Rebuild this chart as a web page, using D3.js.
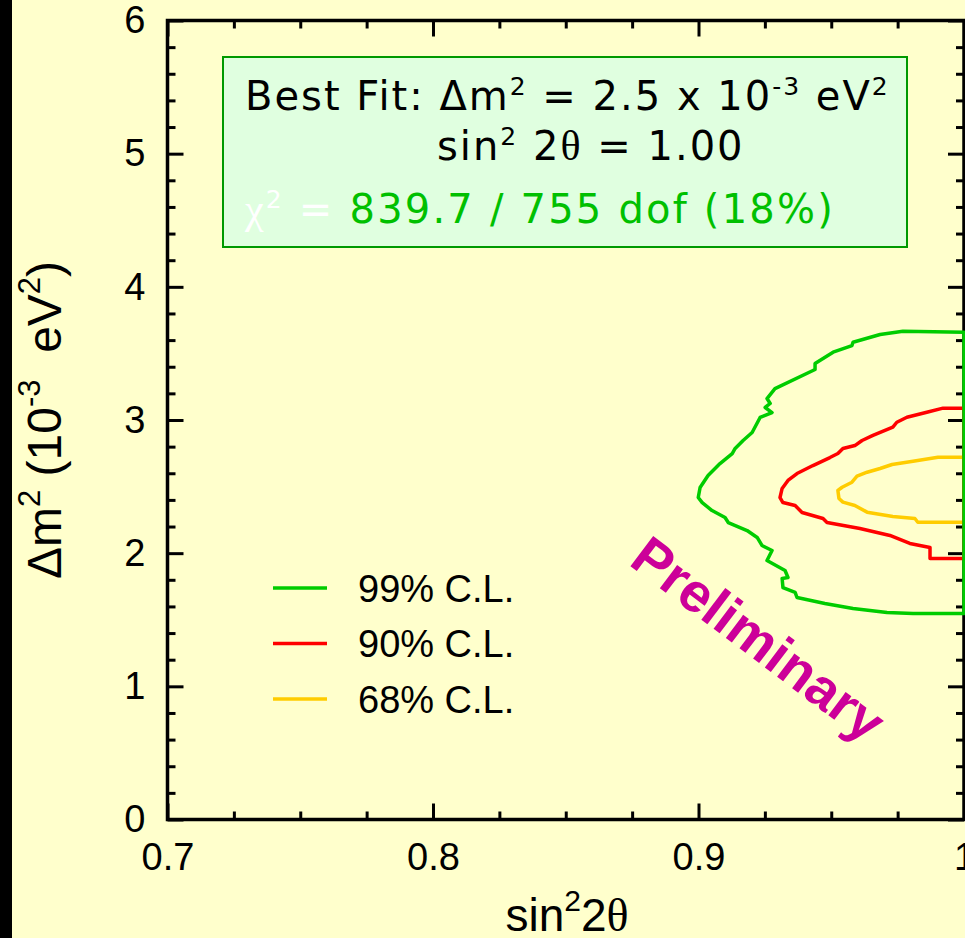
<!DOCTYPE html>
<html>
<head>
<meta charset="utf-8">
<script src="https://cdn.jsdelivr.net/npm/d3@7"></script>
<style>
  html, body { margin: 0; padding: 0; background: #FFFFCC; overflow: hidden; }
  text { white-space: pre; }
</style>
</head>
<body>
<svg id="chart" width="965" height="938"></svg>
<script>
// Allowed-region contours in (sin^2 2theta, dm^2 [1e-3 eV^2]); each closes along sin^2 2theta = 1
const cl99 = [
  [1.000,3.659],[0.977,3.667],[0.9684,3.642],[0.9582,3.584],[0.9578,3.559],[0.9507,3.509],
  [0.9439,3.424],[0.9439,3.379],[0.9288,3.236],[0.9258,3.161],[0.9270,3.124],[0.9251,3.094],
  [0.9277,3.056],[0.9232,3.019],[0.9202,2.906],[0.9168,2.846],[0.9138,2.786],[0.9127,2.748],
  [0.9081,2.673],[0.9036,2.583],[0.9006,2.493],[0.8999,2.418],[0.9014,2.380],[0.9051,2.320],
  [0.9100,2.268],[0.9112,2.230],[0.9183,2.170],[0.9221,2.118],[0.9239,2.058],[0.9277,2.020],
  [0.9258,1.945],[0.9326,1.870],[0.9337,1.817],[0.9315,1.810],[0.9318,1.742],[0.9364,1.705],
  [0.9371,1.667],[0.9476,1.622],[0.9582,1.584],[0.9710,1.554],[0.9808,1.547],[1.000,1.547]
];
const cl90 = [
  [1.000,3.089],[0.9921,3.089],[0.9860,3.058],[0.9785,3.021],[0.9747,2.983],[0.9732,2.946],
  [0.9657,2.884],[0.9616,2.846],[0.9589,2.808],[0.9544,2.786],[0.9525,2.748],[0.9495,2.718],
  [0.9431,2.658],[0.9371,2.598],[0.9337,2.546],[0.9315,2.486],[0.9307,2.418],[0.9318,2.380],
  [0.9364,2.358],[0.9390,2.305],[0.9469,2.260],[0.9484,2.230],[0.9608,2.185],[0.9721,2.133],
  [0.9796,2.073],[0.9872,2.043],[0.9872,1.960],[1.000,1.960]
];
const cl68 = [
  [1.000,2.721],[0.9902,2.721],[0.9808,2.691],[0.9729,2.666],[0.9684,2.636],[0.9635,2.608],
  [0.9597,2.578],[0.9578,2.533],[0.9541,2.495],[0.9525,2.471],[0.9529,2.410],[0.9544,2.383],
  [0.9589,2.358],[0.9635,2.308],[0.9732,2.275],[0.9815,2.260],[0.9826,2.232],[1.000,2.232]
];

const seriesNames  = ["99% C.L.", "90% C.L.", "68% C.L."];
const seriesColors = ["#00CC00", "#FF0000", "#FFCC00"];
const seriesData   = [cl99, cl90, cl68];

const xMajorTicks = [0.7, 0.8, 0.9, 1.0];
const xTickLabels = ["0.7", "0.8", "0.9", "1"];
const yMajorTicks = [0, 1, 2, 3, 4, 5, 6];
const yTickLabels = ["0", "1", "2", "3", "4", "5", "6"];

const W = 965, H = 938;
const svg = d3.select("#chart");
const x = d3.scaleLinear().domain([0.7, 1.0]).range([167.5, 964]);
const y = d3.scaleLinear().domain([0, 6]).range([819.5, 20.5]);

const SANS = "'Liberation Sans', Arial, sans-serif";
const BOX  = "'DejaVu Sans', Verdana, sans-serif";
const SERIF = "'Liberation Serif', 'Times New Roman', serif";

// page background and dark left margin strip
svg.append("rect").attr("width", W).attr("height", H).attr("fill", "#FFFFCC");
svg.append("rect").attr("width", 12).attr("height", H).attr("fill", "#000");

const xMinor = d3.range(0, 13).map(i => 0.7 + i * 0.025).filter(v => !xMajorTicks.some(m => Math.abs(m - v) < 1e-9));
const yMinor = d3.range(0, 31).map(i => i * 0.2).filter(v => !yMajorTicks.some(m => Math.abs(m - v) < 1e-9));

function styleAxis(g) {
  g.select(".domain").remove();
  g.selectAll(".tick line").attr("stroke", "#000").attr("stroke-width", 3);
  g.selectAll("text").attr("font-family", SANS).attr("font-size", 38).attr("fill", "#000");
}

// bottom axis: inward ticks with labels
svg.append("g").attr("transform", `translate(0,${y(0)})`)
  .call(d3.axisBottom(x).tickValues(xMinor).tickSize(-8).tickFormat(""))
  .call(styleAxis);
svg.append("g").attr("transform", `translate(0,${y(0)})`)
  .call(d3.axisBottom(x).tickValues(xMajorTicks).tickSize(-16).tickPadding(24)
        .tickFormat((d, i) => xTickLabels[i]))
  .call(styleAxis);
// top axis: ticks only
svg.append("g").attr("transform", `translate(0,${y(6)})`)
  .call(d3.axisTop(x).tickValues(xMinor).tickSize(-8).tickFormat(""))
  .call(styleAxis);
svg.append("g").attr("transform", `translate(0,${y(6)})`)
  .call(d3.axisTop(x).tickValues(xMajorTicks).tickSize(-16).tickFormat(""))
  .call(styleAxis);
// left axis with labels
svg.append("g").attr("transform", `translate(${x(0.7)},0)`)
  .call(d3.axisLeft(y).tickValues(yMinor).tickSize(-8).tickFormat(""))
  .call(styleAxis);
svg.append("g").attr("transform", `translate(${x(0.7)},0)`)
  .call(d3.axisLeft(y).tickValues(yMajorTicks).tickSize(-16).tickPadding(22)
        .tickFormat((d, i) => yTickLabels[i]))
  .call(styleAxis);
// right axis: ticks only
svg.append("g").attr("transform", `translate(${x(1.0)},0)`)
  .call(d3.axisRight(y).tickValues(yMinor).tickSize(-8).tickFormat(""))
  .call(styleAxis);
svg.append("g").attr("transform", `translate(${x(1.0)},0)`)
  .call(d3.axisRight(y).tickValues(yMajorTicks).tickSize(-16).tickFormat(""))
  .call(styleAxis);

// frame
svg.append("rect")
  .attr("x", x(0.7)).attr("y", y(6))
  .attr("width", x(1.0) - x(0.7)).attr("height", y(0) - y(6))
  .attr("fill", "none").attr("stroke", "#000").attr("stroke-width", 3.5);

// contours, innermost first so the outer one sits on top along the right edge
const line = d3.line().x(d => x(d[0])).y(d => y(d[1]));
[2, 1, 0].forEach(i => {
  svg.append("path")
    .attr("d", line(seriesData[i]) + "Z")
    .attr("fill", "none")
    .attr("stroke", seriesColors[i])
    .attr("stroke-width", 3.5)
    .attr("stroke-linejoin", "round");
});

// legend
const legend = svg.append("g");
seriesNames.forEach((name, i) => {
  const ly = 588 + i * 55.5;
  legend.append("line").attr("x1", 273).attr("x2", 327).attr("y1", ly).attr("y2", ly)
    .attr("stroke", seriesColors[i]).attr("stroke-width", 3.5);
  legend.append("text").attr("x", 358).attr("y", ly).attr("dy", "0.36em")
    .attr("font-family", SANS).attr("font-size", 38).attr("fill", "#000").text(name);
});

// best-fit box
svg.append("rect").attr("x", 223).attr("y", 57).attr("width", 684).attr("height", 190)
  .attr("fill", "#E0FFE0").attr("stroke", "#009900").attr("stroke-width", 2);

function sup(t, txt, size, shift) {
  t.append("tspan").attr("font-size", size).attr("dy", -shift).text(txt);
  return t.append("tspan").attr("dy", shift);
}

const l1 = svg.append("text").attr("x", 245).attr("y", 110)
  .attr("font-family", BOX).attr("font-size", 40).attr("letter-spacing", 2).attr("fill", "#000");
l1.append("tspan").text("Best Fit: \u0394m");
sup(l1, "2", 25, 15).text(" = 2.5 x 10");
sup(l1, "-3", 25, 15).text(" eV");
sup(l1, "2", 25, 15);

const l2 = svg.append("text").attr("x", 437).attr("y", 160)
  .attr("font-family", BOX).attr("font-size", 40).attr("letter-spacing", 2).attr("fill", "#000");
l2.append("tspan").text("sin");
sup(l2, "2", 25, 15).text(" 2");
l2.append("tspan").attr("font-family", SERIF).attr("font-size", 42).text("\u03B8");
l2.append("tspan").text(" = 1.00");

const l3 = svg.append("text").attr("x", 245).attr("y", 223)
  .attr("font-family", BOX).attr("font-size", 40).attr("letter-spacing", 2.2).attr("fill", "#FFFFFF");
l3.append("tspan").attr("font-family", SERIF).attr("font-size", 42).text("\u03C7");
sup(l3, "2", 25, 15).text(" = ");
l3.append("tspan").attr("fill", "#00C000").text("839.7 / 755 dof (18%)");

// axis titles
const xt = svg.append("text").attr("x", 567).attr("y", 931).attr("text-anchor", "middle")
  .attr("font-family", SANS).attr("font-size", 46).attr("fill", "#000");
xt.append("tspan").text("sin");
xt.append("tspan").attr("font-size", 30).attr("dy", -20).text("2");
xt.append("tspan").attr("dy", 20).text("2");
xt.append("tspan").attr("font-family", SERIF).text("\u03B8");

const yt = svg.append("text").attr("transform", "translate(61,420) rotate(-90)")
  .attr("text-anchor", "middle")
  .attr("font-family", SANS).attr("font-size", 48).attr("fill", "#000");
yt.append("tspan").text("\u0394m");
yt.append("tspan").attr("font-size", 31).attr("dy", -21).text("2");
yt.append("tspan").attr("dy", 21).text(" (10");
yt.append("tspan").attr("font-size", 31).attr("dy", -21).text("-3");
yt.append("tspan").attr("dy", 21).text("  eV");
yt.append("tspan").attr("font-size", 31).attr("dy", -21).text("2");
yt.append("tspan").attr("dy", 21).text(")");

// watermark
svg.append("text").attr("transform", "translate(757,641) rotate(37)")
  .attr("text-anchor", "middle").attr("dy", "0.3em")
  .attr("font-family", SANS).attr("font-weight", "bold").attr("font-size", 55)
  .attr("fill", "#CC0099").text("Preliminary");
</script>
</body>
</html>
